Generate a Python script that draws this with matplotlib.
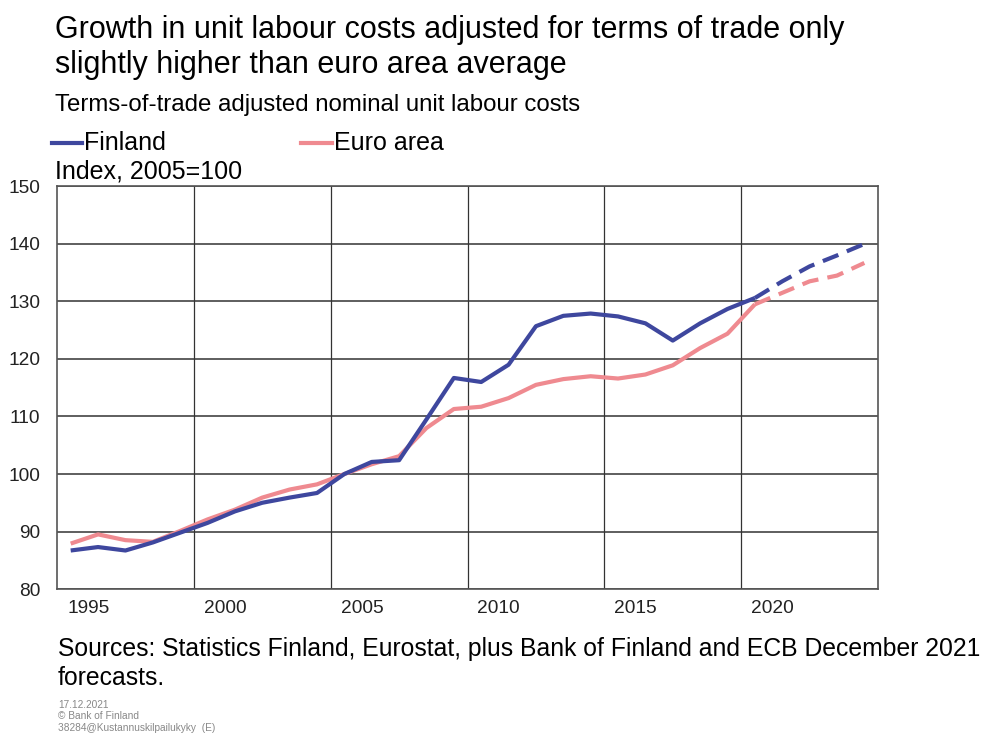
import numpy as np
import matplotlib
matplotlib.use("Agg")
from matplotlib import pyplot as plt

plt.rcParams['font.family'] = ['Liberation Sans', 'DejaVu Sans']

# data: index, 2005=100 (2021-2024 are forecasts)
years = np.arange(1995, 2025)
finland = [86.7, 87.3, 86.7, 88.1, 89.8, 91.5, 93.5, 95.0, 95.9, 96.7,
           100.0, 102.1, 102.4, 109.5, 116.7, 116.0, 119.0, 125.7, 127.5, 127.9,
           127.4, 126.2, 123.2, 126.2, 128.7, 130.6, 133.5, 136.1, 138.0, 140.0]
euro_area = [87.9, 89.5, 88.5, 88.2, 90.1, 92.1, 93.8, 95.9, 97.3, 98.2,
             100.0, 101.7, 103.1, 108.0, 111.3, 111.7, 113.2, 115.5, 116.5, 117.0,
             116.6, 117.3, 118.9, 121.9, 124.4, 129.5, 131.5, 133.5, 134.5, 136.7]
last_actual = 2020
label_years = [1995, 2000, 2005, 2010, 2015, 2020]
y_ticks = [80, 90, 100, 110, 120, 130, 140, 150]

fin_color = '#3E479E'
euro_color = '#EF8A90'

fig = plt.figure(figsize=(9.88, 7.34), dpi=100)
ax = fig.add_axes([0.0577, 0.1975, 0.8310, 0.5485])

fin = np.array(finland)
eur = np.array(euro_area)
act = years <= last_actual
fc = years >= last_actual

# euro area first so Finland sits on top
ax.plot(years[act], eur[act], color=euro_color, lw=3, solid_capstyle='butt')
ax.plot(years[fc], eur[fc], color=euro_color, lw=3, dashes=(4, 2.2))
ax.plot(years[act], fin[act], color=fin_color, lw=3, solid_capstyle='butt')
ax.plot(years[fc], fin[fc], color=fin_color, lw=3, dashes=(4, 2.2))

ax.set_xlim(1994.5, 2024.5)
ax.set_ylim(80, 150)
ax.set_yticks(y_ticks)
# year labels sit a little right of the category centre, like the original
ax.set_xticks(np.array(label_years) + 0.64)
ax.set_xticklabels([str(y) for y in label_years])
ax.set_xticks(np.array(label_years[1:]) - 0.5, minor=True)
ax.tick_params(axis='both', which='both', length=0, labelsize=13.8, colors='#222222')
ax.tick_params(axis='y', pad=12)
ax.tick_params(axis='x', pad=8)

ax.grid(axis='y', which='major', color='#333333', lw=1.1)
ax.grid(axis='x', which='minor', color='#333333', lw=0.9)
ax.set_axisbelow(True)
for s in ax.spines.values():
    s.set_color('#555555')
    s.set_linewidth(1.2)

# titles and legend as figure text
fig.text(0.0557, 0.959, 'Growth in unit labour costs adjusted for terms of trade only',
         fontsize=22, va='center', ha='left')
fig.text(0.0557, 0.911, 'slightly higher than euro area average',
         fontsize=22, va='center', ha='left')
fig.text(0.0557, 0.857, 'Terms-of-trade adjusted nominal unit labour costs',
         fontsize=17.3, va='center', ha='left')

fig.add_artist(plt.Line2D([0.053, 0.083], [0.8055, 0.8055], color=fin_color, lw=3))
fig.text(0.085, 0.8045, 'Finland', fontsize=18, va='center', ha='left')
fig.add_artist(plt.Line2D([0.305, 0.336], [0.8055, 0.8055], color=euro_color, lw=3))
fig.text(0.338, 0.8045, 'Euro area', fontsize=18, va='center', ha='left')
fig.text(0.0557, 0.767, 'Index, 2005=100', fontsize=18, va='center', ha='left')

fig.text(0.0587, 0.116, 'Sources: Statistics Finland, Eurostat, plus Bank of Finland and ECB December 2021',
         fontsize=17.8, va='center', ha='left')
fig.text(0.0587, 0.076, 'forecasts.', fontsize=17.8, va='center', ha='left')

fig.text(0.0587, 0.039, '17.12.2021', fontsize=7.3, color='#888888', va='center')
fig.text(0.0587, 0.024, '\u00a9 Bank of Finland', fontsize=7.3, color='#888888', va='center')
fig.text(0.0587, 0.008, '38284@Kustannuskilpailukyky  (E)', fontsize=7.3, color='#888888', va='center')

fig.savefig('out.png', dpi=100)
